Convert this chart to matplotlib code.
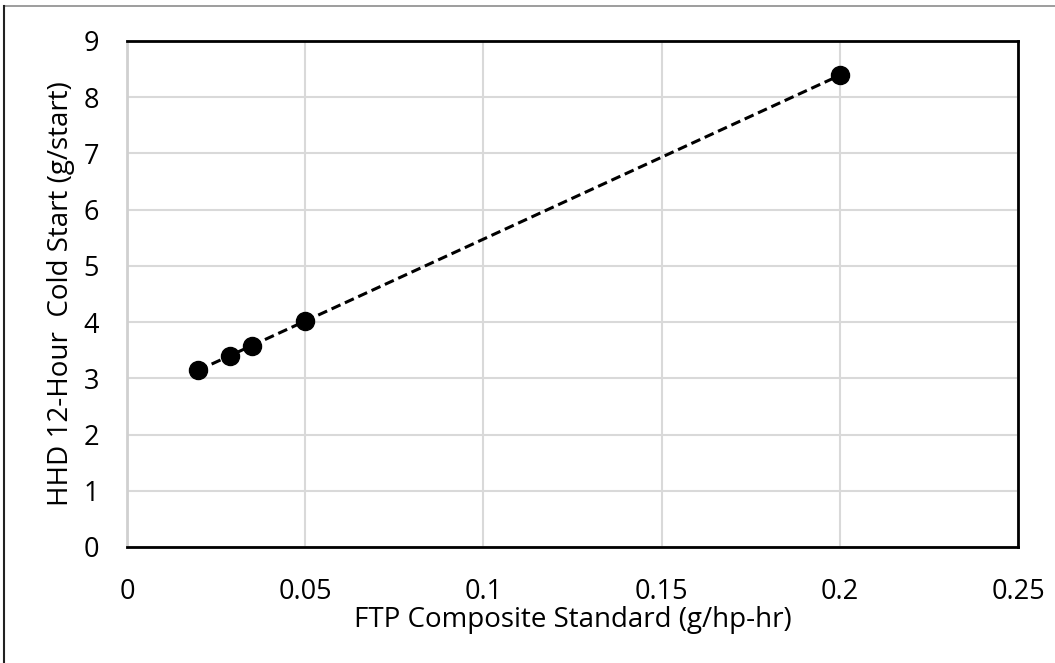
import numpy as np
import matplotlib.pyplot as plt
import matplotlib.patches as mpatches

# FTP composite standard vs HHD 12-hour cold start
ftp_standard = [0.02, 0.029, 0.035, 0.05, 0.2]
cold_start = [3.15, 3.40, 3.58, 4.02, 8.39]

x_ticks = [0, 0.05, 0.1, 0.15, 0.2, 0.25]
x_tick_labels = ["0", "0.05", "0.1", "0.15", "0.2", "0.25"]
y_ticks = list(range(0, 10))

plt.rcParams["font.family"] = ["Open Sans", "DejaVu Sans"]

fig = plt.figure(figsize=(10.55, 6.63), dpi=100)
ax = fig.add_axes([0.1204, 0.175, 0.8446, 0.7632])

# linear trend line over the data range
slope, intercept = np.polyfit(ftp_standard, cold_start, 1)
xs = np.array([min(ftp_standard), max(ftp_standard)])
ax.plot(xs, slope * xs + intercept, color="black", linestyle=(0, (3.2, 1.6)),
        linewidth=2.2, zorder=3)
ax.plot(ftp_standard, cold_start, "o", color="black", markersize=13, zorder=4)

ax.set_xlim(0, 0.25)
ax.set_ylim(0, 9)
ax.set_xticks(x_ticks)
ax.set_xticklabels(x_tick_labels)
ax.set_yticks(y_ticks)
ax.tick_params(length=0, labelsize=19.5, colors="#000000")
ax.tick_params(axis="x", pad=22)
ax.tick_params(axis="y", pad=20)
ax.grid(True, color="#d9d9d9", linewidth=1.5)
ax.set_axisbelow(True)

for side in ["top", "right", "bottom"]:
    ax.spines[side].set_color("black")
    ax.spines[side].set_linewidth(2)
ax.spines["left"].set_color("#d0d0d0")
ax.spines["left"].set_linewidth(2)

ax.set_xlabel("FTP Composite Standard (g/hp-hr)", fontsize=20, labelpad=0)
ax.set_ylabel("HHD 12-Hour  Cold Start (g/start)", fontsize=20, labelpad=6)

# outer chart border
fig.add_artist(mpatches.Rectangle((4 / 1055, -0.1), 1.2, 1 - 6 / 663 + 0.1,
                                  transform=fig.transFigure, fill=False,
                                  edgecolor="#8c8c8c", linewidth=1.2))
fig.add_artist(plt.Line2D([4 / 1055, 4 / 1055], [0, 1 - 6 / 663],
                          transform=fig.transFigure, color="#222222", linewidth=1.5))

fig.savefig("out.png", dpi=100)
